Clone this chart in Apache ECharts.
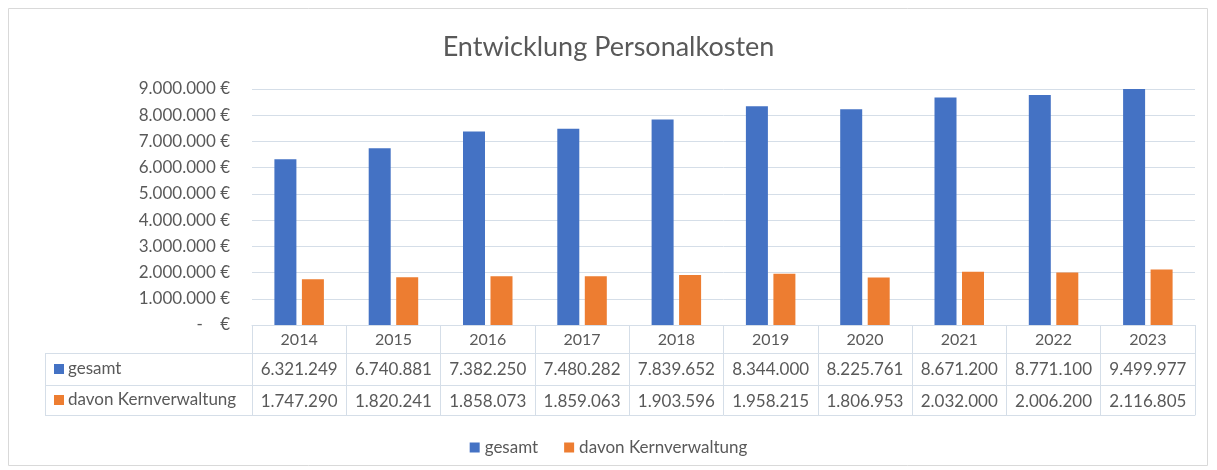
<!DOCTYPE html>
<html>
<head>
<meta charset="utf-8">
<script src="https://cdn.jsdelivr.net/npm/echarts@6/dist/echarts.min.js"></script>
<style>
  html, body { margin: 0; padding: 0; background: #fff; }
  #chart { width: 1217px; height: 470px; }
</style>
</head>
<body>
<div id="chart"></div>
<script>
// Daten
const years = ['2014', '2015', '2016', '2017', '2018', '2019', '2020', '2021', '2022', '2023']
const gesamt = [6321249, 6740881, 7382250, 7480282, 7839652, 8344000, 8225761, 8671200, 8771100, 9499977]
const kern = [1747290, 1820241, 1858073, 1859063, 1903596, 1958215, 1806953, 2032000, 2006200, 2116805]
const seriesNames = ['gesamt', 'davon Kernverwaltung']

const blue = '#4472C4'
const orange = '#ED7D31'
const txt = '#595959'
const line = '#D5DEE8'
const font = 'Lato, "Open Sans", sans-serif'

// 1234567 -> "1.234.567"
function fmt(v) {
  return String(Math.round(v)).replace(/\B(?=(\d{3})+(?!\d))/g, '.')
}

// Achse für eine Tabellenzeile
function tableAxis(data, offset, margin) {
  return {
    type: 'category',
    data: data,
    position: 'bottom',
    offset: offset,
    axisLine: { show: true, lineStyle: { color: line, width: 1 } },
    axisTick: { show: false },
    axisLabel: { interval: 0, margin: margin, color: txt, fontSize: 17, fontFamily: font },
    splitLine: { show: false }
  }
}

const option = {
  animation: false,
  title: {
    text: 'Entwicklung Personalkosten',
    left: 'center',
    top: 29,
    textStyle: { color: txt, fontSize: 27, fontWeight: 'normal', fontFamily: font }
  },
  legend: {
    data: seriesNames,
    bottom: 9,
    left: 'center',
    icon: 'rect',
    itemWidth: 10,
    itemHeight: 10,
    itemGap: 26,
    textStyle: { color: txt, fontSize: 17, fontFamily: font }
  },
  grid: { left: 252, right: 22, top: 89, bottom: 145 },
  xAxis: [
    {
      type: 'category',
      data: years,
      position: 'bottom',
      axisLine: { show: true, lineStyle: { color: line, width: 1 } },
      axisTick: { show: true, interval: 0, length: 90, lineStyle: { color: line, width: 1 } },
      axisLabel: { interval: 0, margin: 7, color: txt, fontSize: 16, fontFamily: font }
    },
    tableAxis(gesamt.map(fmt), 28, 8),
    tableAxis(kern.map(fmt), 60, 8),
    Object.assign(tableAxis(years.map(() => ''), 90, 8), { axisLabel: { show: false } })
  ],
  yAxis: {
    type: 'value',
    min: 0,
    max: 9000000,
    interval: 1000000,
    axisLine: { show: false },
    axisTick: { show: false },
    axisLabel: {
      margin: 22,
      color: txt,
      fontSize: 17,
      fontFamily: font,
      formatter: v => v === 0 ? '-    €' : fmt(v) + ' €'
    },
    splitLine: { lineStyle: { color: line, width: 1 } }
  },
  series: [
    { name: seriesNames[0], type: 'bar', data: gesamt, barWidth: 22, barGap: '25%', itemStyle: { color: blue } },
    { name: seriesNames[1], type: 'bar', data: kern, barWidth: 22, barGap: '25%', itemStyle: { color: orange } }
  ],
  graphic: [
    // Rahmen
    { type: 'rect', shape: { x: 8.5, y: 8.5, width: 1199, height: 457 }, style: { fill: 'none', stroke: '#D9D9D9', lineWidth: 1 }, silent: true },
    // Kopfspalte der Tabelle
    { type: 'line', shape: { x1: 45, y1: 353.5, x2: 252, y2: 353.5 }, style: { stroke: line, lineWidth: 1 } },
    { type: 'line', shape: { x1: 45, y1: 385.5, x2: 252, y2: 385.5 }, style: { stroke: line, lineWidth: 1 } },
    { type: 'line', shape: { x1: 45, y1: 415.5, x2: 252, y2: 415.5 }, style: { stroke: line, lineWidth: 1 } },
    { type: 'line', shape: { x1: 45.5, y1: 353, x2: 45.5, y2: 416 }, style: { stroke: line, lineWidth: 1 } },
    { type: 'rect', shape: { x: 54, y: 364, width: 10, height: 10 }, style: { fill: blue } },
    { type: 'text', x: 68, y: 369, style: { text: seriesNames[0], fill: txt, fontSize: 17, fontFamily: font, verticalAlign: 'middle' } },
    { type: 'rect', shape: { x: 54, y: 395, width: 10, height: 10 }, style: { fill: orange } },
    { type: 'text', x: 68, y: 400, style: { text: seriesNames[1], fill: txt, fontSize: 17, fontFamily: font, verticalAlign: 'middle' } }
  ]
}

const myChart = echarts.init(document.getElementById('chart'))
myChart.setOption(option)
</script>
</body>
</html>
